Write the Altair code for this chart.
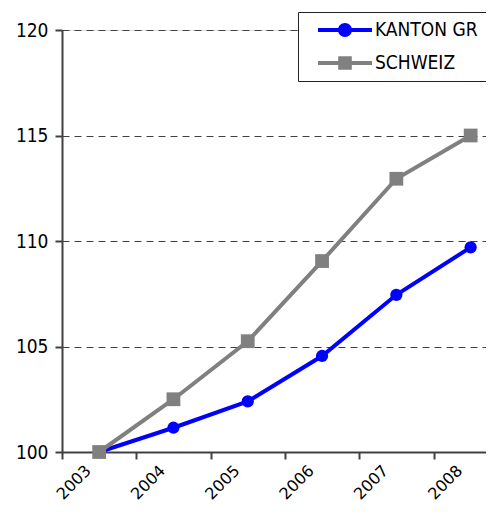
import altair as alt
import pandas as pd

years = [2003, 2004, 2005, 2006, 2007, 2008]
kanton_gr = [100.0, 101.15, 102.4, 104.55, 107.45, 109.7]
schweiz = [100.0, 102.5, 105.25, 109.05, 112.95, 115.0]
series_names = ["KANTON GR", "SCHWEIZ"]
series_colors = ["#0000FF", "#808080"]
y_ticks = [100, 105, 110, 115, 120]

df = pd.DataFrame({
    "year": years * 2,
    "value": kanton_gr + schweiz,
    "series": [series_names[0]] * len(years) + [series_names[1]] * len(years),
})

FONT = "DejaVu Sans Condensed"
STEP = 74.3
PLOT_W = 424
PLOT_H = 422

x_enc = alt.X(
    "year:Q",
    scale=alt.Scale(domain=[2002.5, 2002.5 + PLOT_W / STEP], nice=False, zero=False),
    axis=alt.Axis(
        values=years, format="d", title=None, grid=False,
        tickOffset=-STEP / 2, labelOffset=STEP / 2 - 16.85,
        labelAngle=-45, labelAlign="right", labelBaseline="top",
        labelPadding=3, tickSize=7, tickWidth=2, tickColor="#404040",
        domainColor="#404040", domainWidth=2,
        labelFont="DejaVu Sans", labelFontSize=16, labelColor="black",
        labelOverlap=False, labelFlush=False, labelBound=False,
    ),
)
y_enc = alt.Y(
    "value:Q",
    scale=alt.Scale(domain=[100, 120], nice=False, zero=False),
    axis=alt.Axis(
        values=y_ticks, title=None, grid=True, gridDash=[7, 5],
        gridColor="#404040", gridWidth=1,
        tickSize=7, tickWidth=2, tickColor="#404040",
        domainColor="#404040", domainWidth=2,
        labelPadding=7, labelFont=FONT, labelFontSize=19, labelColor="black",
        labelFlush=False, labelOverlap=False,
    ),
)

color_scale = alt.Scale(domain=series_names, range=series_colors)

p_circle = "M-2.7,-0.2H2.7V0.2H-2.7Z M0.7,0A0.7,0.7,0,1,1,-0.7,0A0.7,0.7,0,1,1,0.7,0Z"
p_square = "M-2.7,-0.2H2.7V0.2H-2.7Z M-0.68,-0.68H0.68V0.68H-0.68Z"

leg = alt.Legend(
    title=None, orient="none", legendX=236, legendY=-18,
    symbolSize=400, symbolStrokeWidth=0, symbolOpacity=1, symbolOffset=29,
    labelFont=FONT, labelFontSize=19, labelColor="black", labelOffset=20,
    strokeColor="#222222", fillColor="white", padding=8, rowPadding=13,
    cornerRadius=0,
)

base = alt.Chart(df).encode(x=x_enc, y=y_enc)

legend_layer = base.mark_point(filled=True, opacity=0).encode(
    color=alt.Color("series:N", scale=color_scale, legend=leg),
    shape=alt.Shape("series:N", scale=alt.Scale(domain=series_names, range=[p_circle, p_square]), legend=leg),
)
layers = [legend_layer]

for name, shape, size in [("KANTON GR", "circle", 150), ("SCHWEIZ", "square", 190)]:
    sub = base.transform_filter(alt.datum.series == name)
    layers.append(
        sub.mark_line(strokeWidth=4).encode(
            color=alt.Color("series:N", scale=color_scale, legend=None)
        )
    )
    layers.append(
        sub.mark_point(shape=shape, filled=True, size=size, opacity=1).encode(
            color=alt.Color("series:N", scale=color_scale, legend=None)
        )
    )

chart = alt.layer(*layers).properties(
    width=PLOT_W, height=PLOT_H,
    autosize=alt.AutoSizeParams(type="none"),
    padding={"left": 54, "top": 22, "right": 0, "bottom": 52},
).configure_view(stroke=None).configure(font=FONT)

chart.save("out.html", embed_options={"renderer": "svg", "actions": False})
